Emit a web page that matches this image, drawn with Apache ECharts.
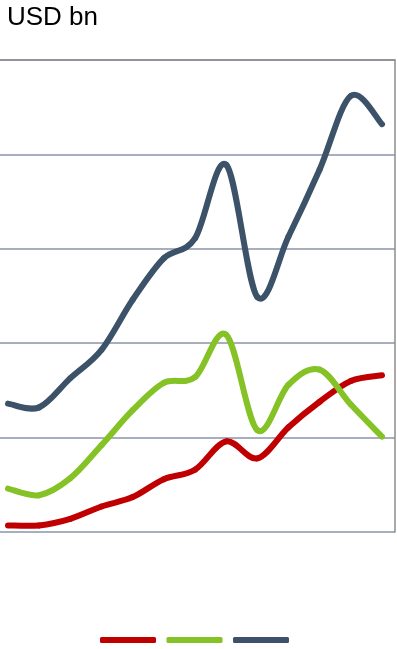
<!DOCTYPE html>
<html>
<head>
<meta charset="utf-8">
<style>
  html, body { margin: 0; padding: 0; background: #ffffff; }
  #chart { width: 397px; height: 649px; }
</style>
<script src="https://cdn.jsdelivr.net/npm/echarts@6/dist/echarts.min.js"></script>
</head>
<body>
<div id="chart"></div>
<script>
// Periods along the horizontal axis (unlabelled)
const periods = ['P1', 'P2', 'P3', 'P4', 'P5', 'P6', 'P7', 'P8', 'P9', 'P10', 'P11', 'P12', 'P13'];

// Values in USD bn
const redSeries   = [0.7, 0.7, 1.4, 2.7, 3.7, 5.6, 6.6, 9.6, 7.8, 11.1, 13.8, 16.0, 16.6];
const greenSeries = [4.6, 3.9, 5.7, 9.2, 12.9, 15.8, 16.4, 20.9, 10.8, 15.6, 17.2, 13.5, 10.1];
const navySeries  = [13.6, 13.2, 16.3, 19.3, 24.6, 29.0, 31.1, 38.9, 24.9, 31.3, 38.4, 46.2, 43.2];

// Value-axis ticks
const yTicks = [0, 10, 20, 30, 40, 50];

const seriesNames = ['Red', 'Green', 'Navy'];
const seriesColors = ['#c00000', '#84c225', '#3b5268'];
const seriesData = [redSeries, greenSeries, navySeries];
const lineWidth = 6;

const chart = echarts.init(document.getElementById('chart'), null, { renderer: 'canvas' });

// Pair each value with its period index so the x scale can be padded freely
const toPairs = arr => arr.map((v, i) => [i, v]);
const xMin = -0.257;
const xMax = periods.length - 1 + 0.417;

// Draws segment i -> i+1 of a series as a Catmull-Rom style cubic Bezier,
// positioned through the chart's own coordinate system.
function makeRenderer(arr, color) {
  return function (params, api) {
    const i = params.dataIndex;
    const n = arr.length;
    if (i >= n - 1) return null;
    const pt = j => {
      const jj = Math.max(0, Math.min(n - 1, j));
      return api.coord([jj, arr[jj]]);
    };
    const p0 = pt(i - 1), p1 = pt(i), p2 = pt(i + 1), p3 = pt(i + 2);
    const t = 1 / 6;
    return {
      type: 'bezierCurve',
      shape: {
        x1: p1[0], y1: p1[1],
        x2: p2[0], y2: p2[1],
        cpx1: p1[0] + (p2[0] - p0[0]) * t,
        cpy1: p1[1] + (p2[1] - p0[1]) * t,
        cpx2: p2[0] - (p3[0] - p1[0]) * t,
        cpy2: p2[1] - (p3[1] - p1[1]) * t
      },
      style: {
        fill: null,
        stroke: color,
        lineWidth: lineWidth,
        lineCap: 'round',
        lineJoin: 'round'
      }
    };
  };
}

chart.setOption({
  animation: false,
  backgroundColor: '#ffffff',
  title: {
    text: 'USD bn',
    left: 2,
    top: 0,
    textStyle: {
      fontFamily: 'Liberation Sans, Arial, sans-serif',
      fontSize: 26,
      fontWeight: 'normal',
      color: '#000000'
    }
  },
  legend: {
    bottom: 1,
    left: 95,
    itemWidth: 56,
    itemHeight: 6,
    itemGap: 10.5,
    icon: 'roundRect',
    formatter: () => '',
    selectedMode: false,
    data: seriesNames
  },
  grid: { left: 0, right: 2, top: 60, bottom: 117, containLabel: false },
  xAxis: [
    {
      type: 'value',
      min: xMin,
      max: xMax,
      axisLine: { show: false, onZero: false },
      axisTick: { show: false },
      axisLabel: { show: false },
      splitLine: { show: false }
    },
    {
      type: 'value',
      position: 'top',
      min: xMin,
      max: xMax,
      axisLine: { show: true, onZero: false, lineStyle: { color: '#8c8c8c', width: 1.5 } },
      axisTick: { show: false },
      axisLabel: { show: false },
      splitLine: { show: false }
    }
  ],
  yAxis: [
    {
      type: 'value',
      min: yTicks[0],
      max: yTicks[yTicks.length - 1],
      interval: 10,
      axisLine: { show: false, onZero: false },
      axisTick: { show: false },
      axisLabel: { show: false },
      splitLine: { show: true, lineStyle: { color: '#8a93ab', width: 1.5 } }
    },
    {
      type: 'value',
      position: 'right',
      min: yTicks[0],
      max: yTicks[yTicks.length - 1],
      interval: 10,
      axisLine: { show: true, onZero: false, lineStyle: { color: '#8c8c8c', width: 1.5 } },
      axisTick: { show: false },
      axisLabel: { show: false },
      splitLine: { show: false }
    }
  ],
  series: seriesData.map((arr, k) => ({
    name: seriesNames[k],
    type: 'custom',
    xAxisIndex: 0,
    yAxisIndex: 0,
    data: toPairs(arr),
    encode: { x: 0, y: 1 },
    itemStyle: { color: seriesColors[k] },
    renderItem: makeRenderer(arr, seriesColors[k]),
    z: 3 + k
  }))
});
</script>
</body>
</html>
